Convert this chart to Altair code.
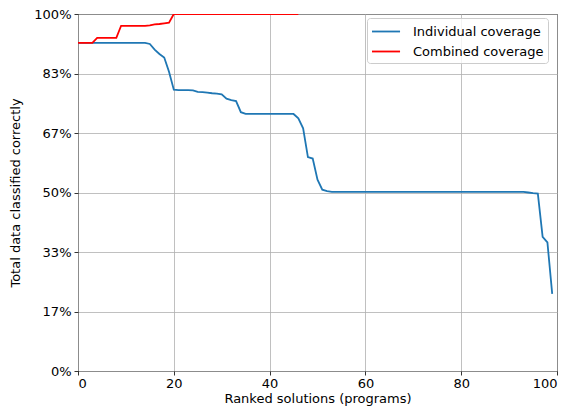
import altair as alt
import pandas as pd

# Individual coverage (x = 0..99), percent
ind_x = list(range(100))
ind_y = ([91.9] * 15 +
         [91.6, 90.0, 88.8, 87.8, 83.8, 78.8, 78.7, 78.7, 78.7, 78.6,
          78.2, 78.1, 78.0, 77.8, 77.7, 77.5, 76.3, 75.9, 75.6, 72.5] +
         [72.0] * 11 +
         [70.8, 68.0, 59.9, 59.5, 53.6, 50.8, 50.4] +
         [50.2] * 41 +
         [50.0, 49.8, 49.7, 37.6, 36.0, 21.6])

# Combined coverage (x = 0..46), percent
comb_x = list(range(47))
comb_y = ([91.9] * 4 + [93.3] * 5 + [96.7] * 6 +
          [96.8, 97.1, 97.2, 97.4, 97.6] + [100.0] * 27)

ind_name = "Individual coverage"
comb_name = "Combined coverage"

df_ind = pd.DataFrame({"x": ind_x, "y": ind_y, "series": ind_name})
df_comb = pd.DataFrame({"x": comb_x, "y": comb_y, "series": comb_name})

font = "DejaVu Sans"
fs = 13

color = alt.Color(
    "series:N",
    scale=alt.Scale(domain=[ind_name, comb_name], range=["#1f77b4", "#ff0000"]),
    legend=alt.Legend(
        title=None, orient="none", legendX=289, legendY=4,
        symbolType="M-1,0H2.3", symbolSize=289, symbolStrokeWidth=1.8,
        labelOffset=23, rowPadding=3, padding=4,
        fillColor="rgba(255,255,255,0.8)", strokeColor="#cccccc",
        cornerRadius=3, labelFont=font, labelFontSize=fs, labelColor="#000000",
    ),
)

xenc = alt.X("x:Q", scale=alt.Scale(domain=[0, 100], nice=False),
             axis=alt.Axis(values=[0, 20, 40, 60, 80, 100], title="Ranked solutions (programs)"))
yenc = alt.Y("y:Q", scale=alt.Scale(domain=[0, 100], nice=False),
             axis=alt.Axis(values=[0, 100/6, 200/6, 50, 400/6, 500/6, 100],
                           labelExpr="format(datum.value, '.0f') + '%'",
                           title="Total data classified correctly"))

l1 = alt.Chart(df_ind).mark_line(strokeWidth=1.8, clip=True).encode(x=xenc, y=yenc, color=color)
l2 = alt.Chart(df_comb).mark_line(strokeWidth=1.8, clip=True).encode(x=xenc, y=yenc, color=color)

chart = alt.layer(l1, l2).properties(
    width=479, height=357,
    autosize=alt.AutoSizeParams(type="none"),
    padding={"left": 70, "top": 6, "right": 3, "bottom": 36},
).configure_view(
    stroke="#000000", strokeWidth=1
).configure_axis(
    grid=True, gridColor="#b0b0b0", gridWidth=0.8,
    domain=False, tickColor="#000000", tickSize=4, tickWidth=0.8,
    labelFont=font, labelFontSize=fs, labelColor="#000000", labelPadding=3,
    titleFont=font, titleFontSize=fs, titleFontWeight="normal", titleColor="#000000",
).configure_axisY(
    titlePadding=11
).configure_axisX(
    labelPadding=2, titlePadding=2
)

chart.save("out.html", embed_options={"renderer": "svg", "actions": False})
